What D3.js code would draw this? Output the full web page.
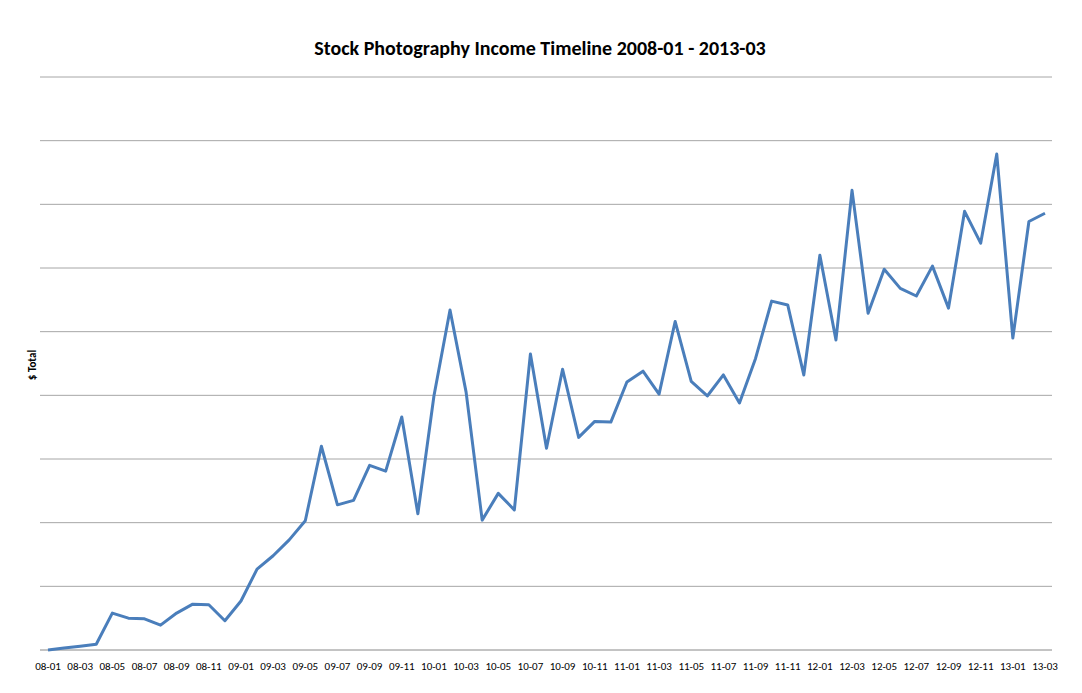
<!DOCTYPE html>
<html><head><meta charset="utf-8">
<script src="https://cdn.jsdelivr.net/npm/d3@7"></script>
<style>body{margin:0;background:#fff;font-family:Carlito,"Liberation Sans",Arial,sans-serif}</style>
</head><body>
<svg id="chart" width="1082" height="693"></svg>
<script>
// months 2008-01 .. 2013-03
const months = [];
for (let yr = 8; yr <= 13; yr++) for (let m = 1; m <= 12; m++) {
  if (yr === 13 && m > 3) break;
  months.push(String(yr).padStart(2, "0") + "-" + String(m).padStart(2, "0"));
}
// values in gridline units (no y labels in the original)
const totals = [0,0.03,0.06,0.09,0.58,0.50,0.49,0.39,0.58,0.72,0.71,0.46,0.77,1.27,1.48,1.73,2.03,3.20,2.28,2.35,
  2.90,2.81,3.66,2.14,3.99,5.34,4.05,2.04,2.46,2.20,4.65,3.17,4.41,3.34,3.59,3.58,4.21,4.38,4.02,5.16,
  4.22,3.99,4.32,3.88,4.58,5.48,5.42,4.32,6.20,4.87,7.22,5.29,5.98,5.68,5.56,6.03,5.37,6.89,6.39,7.79,
  4.90,6.73,6.86];
const gridTicks = d3.range(0, 10);
const tickLabels = months.filter((d, i) => i % 2 === 0);

const svg = d3.select("#chart");
const plotLeft = 40, plotRight = 1052, plotTop = 77, plotBottom = 650;

const x = d3.scalePoint().domain(months).range([48, 1045]);
const y = d3.scaleLinear().domain([0, 9]).range([plotBottom, plotTop]);

// gridlines
svg.append("g").selectAll("line").data(gridTicks).join("line")
  .attr("x1", plotLeft).attr("x2", plotRight)
  .attr("y1", d => y(d)).attr("y2", d => y(d))
  .attr("stroke", d => d === 0 ? "#888" : "#a6a6a6").attr("stroke-width", 1);

// x labels
svg.append("g").selectAll("text").data(tickLabels).join("text")
  .attr("x", d => x(d)).attr("y", 670)
  .attr("text-anchor", "middle").attr("font-size", 11).attr("fill", "#000")
  .text(d => d);

// line
svg.append("path").datum(totals)
  .attr("fill", "none").attr("stroke", "#4a7ebb").attr("stroke-width", 3)
  .attr("stroke-linejoin", "round")
  .attr("d", d3.line().x((d, i) => x(months[i])).y(d => y(d)));

// title
svg.append("text").attr("x", 540).attr("y", 55).attr("text-anchor", "middle")
  .attr("font-size", 20).attr("font-weight", "bold").text("Stock Photography Income Timeline 2008-01 - 2013-03");

// y label
svg.append("text").attr("transform", "translate(36,365) rotate(-90)")
  .attr("text-anchor", "middle").attr("font-size", 11).attr("font-weight", "bold").text("$ Total");
</script>
</body></html>
